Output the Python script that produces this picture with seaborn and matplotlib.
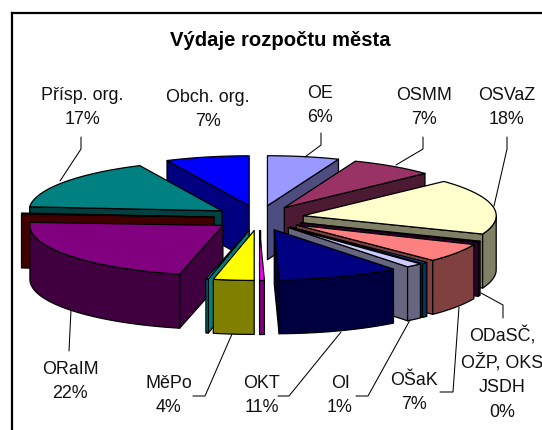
import numpy as np
import matplotlib
matplotlib.use("Agg")
import matplotlib.pyplot as plt
from matplotlib.patches import Polygon
import seaborn as sns

# Slices, clockwise from 12 o'clock (share of the whole, percent)
slice_names = ["OE", "OSMM", "OSVaZ", "ODaSČ", "OŠaK", "OKS", "OI", "OKT",
               "JSDH", "MěPo", "OŽP", "ORaIM", "Rez", "Přísp. org.", "Obch. org."]
slice_shares = [6, 7, 18, 0.4, 6.1, 0.5, 1.4, 10.2, 0.4, 3.4, 0.2, 22.4, 0.3, 16.7, 7]
slice_colors = ["#9999FF", "#993366", "#FFFFCC", "#660066", "#FF8080", "#0066CC",
                "#CCCCFF", "#000080", "#FF00FF", "#FFFF00", "#00FFFF", "#800080",
                "#800000", "#008080", "#0000FF"]

title = "Výdaje rozpočtu města"
label_texts = ["Přísp. org.\n17%", "Obch. org.\n7%", "OE\n6%", "OSMM\n7%", "OSVaZ\n18%",
               "ORaIM\n22%", "MěPo\n4%", "OKT\n11%", "OI\n1%", "OŠaK\n7%",
               "ODaSČ,\nOŽP, OKS\nJSDH\n0%"]
label_x = [82, 208, 320, 424, 507, 70, 169, 262, 340, 414, 502]
label_y = [107.5, 109.5, 105.5, 107.5, 107.5, 381.5, 395.5, 395.5, 395.5, 392.5, 373.5]

leaders = [
    [(81, 137), (81, 149), (60, 181)],
    [(321, 133), (321, 145), (305, 157)],
    [(423, 137), (423, 149), (396, 165)],
    [(507, 137), (507, 149), (494, 206)],
    [(481, 293), (503, 305), (503, 318)],
    [(459, 307), (453, 392), (440, 392)],
    [(410, 320), (368, 396), (356, 396)],
    [(341, 332), (289, 396), (278, 396)],
    [(232, 334), (205, 396), (193, 396)],
    [(71, 310), (69, 351)],
]

# Projection of the tilted, exploded pie
CX, CY = 259, 218
RX, RY = 193, 50
EX, EY = 45, 12.5
DEPTH = 54

sns.set_theme(style="white")
plt.rcParams["font.family"] = ["Liberation Sans", "DejaVu Sans"]
palette = sns.color_palette(slice_colors)

fig = plt.figure(figsize=(5.42, 4.30), dpi=100, facecolor="white")
ax = fig.add_axes([12 / 542, 0, 530 / 542, 417 / 430])
ax.set_xlim(12, 542)
ax.set_ylim(430, 13)
ax.set_xticks([])
ax.set_yticks([])
for side in ("right", "bottom"):
    ax.spines[side].set_visible(False)
for side in ("left", "top"):
    ax.spines[side].set_color("black")
    ax.spines[side].set_linewidth(1.6)

edges = np.cumsum([0] + slice_shares) / 100 * 2 * np.pi
LW = 0.9


def rim(ax0, ay0, t):
    return np.column_stack([ax0 + RX * np.sin(t), ay0 - RY * np.cos(t)])


def face(pts, color, z):
    ax.add_patch(Polygon(pts, closed=True, facecolor=color, edgecolor="black",
                         linewidth=LW, joinstyle="round", zorder=z))


def wall(top_pts):
    return np.vstack([top_pts, (top_pts + [0, DEPTH])[::-1]])


apexes = []
for a, b in zip(edges[:-1], edges[1:]):
    m = (a + b) / 2
    apexes.append((CX + EX * np.sin(m), CY - EY * np.cos(m)))

order = np.argsort([p[1] for p in apexes])
z = 2
for i in order:
    a, b = edges[i], edges[i + 1]
    x0, y0 = apexes[i]
    col = palette[i]
    dark = tuple(c * 0.5 for c in col)
    apex = np.array([[x0, y0]])
    if np.sin(a) < 0:
        face(wall(np.vstack([apex, rim(x0, y0, np.array([a]))])), dark, z)
        z += 1
    if np.sin(b) > 0:
        face(wall(np.vstack([apex, rim(x0, y0, np.array([b]))])), dark, z)
        z += 1
    lo, hi = max(a, np.pi / 2), min(b, 3 * np.pi / 2)
    if hi > lo:
        face(wall(rim(x0, y0, np.linspace(lo, hi, 40))), dark, z)
        z += 1
    face(np.vstack([apex, rim(x0, y0, np.linspace(a, b, 40))]), col, z)
    z += 1

for line in leaders:
    xs, ys = zip(*line)
    ax.plot(xs, ys, color="black", lw=0.75, zorder=z + 1, solid_joinstyle="miter")

for text, x, y in zip(label_texts, label_x, label_y):
    ax.text(x, y, text, ha="center", va="center", fontsize=12.9, color="#111111",
            linespacing=1.58, zorder=z + 2)

ax.text(280, 41, title, ha="center", va="center", fontsize=14.6, fontweight="bold",
        color="black", zorder=z + 2)

fig.savefig("out.png", dpi=100, facecolor="white")
